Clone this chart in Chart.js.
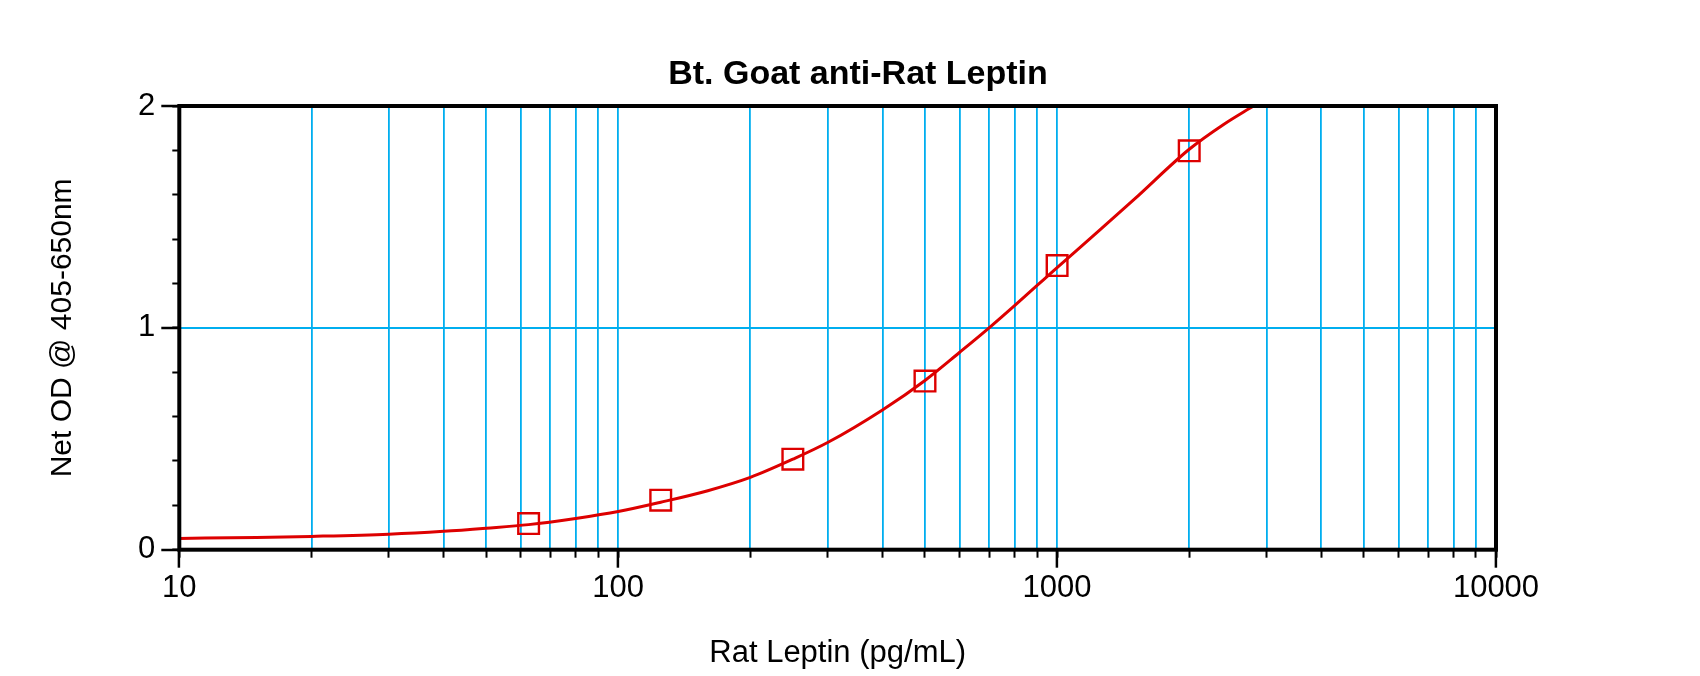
<!DOCTYPE html>
<html>
<head>
<meta charset="utf-8">
<script src="https://cdn.jsdelivr.net/npm/chart.js@4.4.0/dist/chart.umd.min.js"></script>
<style>
  html, body { margin: 0; padding: 0; background: #fff; }
  #wrap { width: 1700px; height: 676px; }
</style>
</head>
<body>
<div id="wrap"><canvas id="canvas1"></canvas></div>
<script>
// standards (pg/mL -> net OD)
var stdX = [62.5, 125, 250, 500, 1000, 2000];
var stdY = [0.118, 0.223, 0.408, 0.76, 1.281, 1.798];

// fitted curve
var curveX = [10, 15, 20, 30, 40, 50, 62.5, 80, 100, 125, 160, 200, 250, 300, 400, 500, 600, 700, 800, 1000, 1250, 1500, 2000, 2400, 2800];
var curveY = [0.051, 0.055, 0.060, 0.070, 0.083, 0.097, 0.113, 0.141, 0.172, 0.214, 0.266, 0.326, 0.408, 0.483, 0.630, 0.763, 0.890, 1.000, 1.100, 1.272, 1.440, 1.580, 1.805, 1.918, 2.000];

// axis ticks
var xTicks = [10, 20, 30, 40, 50, 60, 70, 80, 90,
              100, 200, 300, 400, 500, 600, 700, 800, 900,
              1000, 2000, 3000, 4000, 5000, 6000, 7000, 8000, 9000, 10000];
var xLabels = [10, 100, 1000, 10000];
var yMajor = [0, 1, 2];
var yMinor = [0, 0.2, 0.4, 0.6, 0.8, 1, 1.2, 1.4, 1.6, 1.8, 2];

var RED = '#dd0000';
var GRID = '#00aeef';
var FONT = 'Liberation Sans, Arial, sans-serif';

function toPoints(xs, ys) {
    var pts = [];
    for (var i = 0; i < xs.length; i++) {
        pts.push({x: xs[i], y: ys[i]});
    }
    return pts;
}

function setTicks(values) {
    return function(scale) {
        scale.ticks = values.map(function(v) { return {value: v}; });
    };
}

var framePlugin = {
    id: 'frame',
    afterDatasetsDraw: function(chart) {
        var a = chart.chartArea;
        var ctx = chart.ctx;
        ctx.save();
        ctx.strokeStyle = '#000';
        ctx.lineWidth = 4;
        ctx.strokeRect(a.left, a.top, a.right - a.left, a.bottom - a.top);
        ctx.restore();
    }
};

var ctx = document.getElementById('canvas1');
var chart = new Chart(ctx, {
    type: 'scatter',
    data: {
        datasets: [
            {
                label: 'fit',
                data: toPoints(curveX, curveY),
                showLine: true,
                borderColor: RED,
                borderWidth: 3,
                pointRadius: 0,
                cubicInterpolationMode: 'monotone',
                order: 2
            },
            {
                label: 'standards',
                data: toPoints(stdX, stdY),
                showLine: false,
                pointStyle: 'rect',
                pointRadius: 14.6,
                pointBorderWidth: 2.4,
                borderColor: RED,
                backgroundColor: 'rgba(0,0,0,0)',
                order: 1
            }
        ]
    },
    options: {
        responsive: true,
        maintainAspectRatio: false,
        animation: false,
        layout: { padding: {left: 16, right: 0, top: 0, bottom: 0} },
        plugins: {
            legend: { display: false },
            tooltip: { enabled: false },
            title: {
                display: true,
                text: 'Bt. Goat anti-Rat Leptin',
                color: '#000',
                font: { family: FONT, size: 34, weight: 'bold' },
                padding: { top: 54, bottom: 11.2 }
            }
        },
        scales: {
            x: {
                type: 'logarithmic',
                position: 'bottom',
                weight: 1,
                min: 10,
                max: 10000,
                afterBuildTicks: setTicks(xTicks),
                afterFit: function(s) { s.height = 126.3; },
                border: { display: false },
                grid: {
                    color: function(c) {
                        var v = c.tick ? c.tick.value : 0;
                        return (v === 10 || v === 10000) ? 'rgba(0,0,0,0)' : GRID;
                    },
                    lineWidth: 1.8,
                    tickLength: 18,
                    tickWidth: 2.5,
                    tickColor: function(c) {
                        return xLabels.indexOf(c.tick.value) >= 0 ? '#000' : 'rgba(0,0,0,0)';
                    }
                },
                ticks: {
                    autoSkip: false,
                    maxRotation: 0,
                    padding: 2,
                    color: '#000',
                    font: { family: FONT, size: 31 },
                    callback: function(value) {
                        return xLabels.indexOf(value) >= 0 ? String(value) : '';
                    }
                },
                title: {
                    display: true,
                    text: 'Rat Leptin (pg/mL)',
                    color: '#000',
                    font: { family: FONT, size: 31 },
                    padding: { top: 0, bottom: 4 }
                }
            },
            x2: {
                type: 'logarithmic',
                position: 'bottom',
                weight: 0,
                min: 10,
                max: 10000,
                afterBuildTicks: setTicks(xTicks),
                afterFit: function(s) { s.height = 0; },
                border: { display: false },
                grid: {
                    drawOnChartArea: false,
                    tickLength: 8,
                    tickWidth: 2,
                    tickColor: '#000'
                },
                ticks: { display: false, autoSkip: false }
            },
            y: {
                type: 'linear',
                position: 'left',
                weight: 1,
                min: 0,
                max: 2,
                afterBuildTicks: setTicks(yMajor),
                afterFit: function(s) { s.width = 163.3; },
                border: { display: false },
                grid: {
                    color: function(c) {
                        return c.tick && c.tick.value === 1 ? GRID : 'rgba(0,0,0,0)';
                    },
                    lineWidth: 2,
                    tickLength: 18,
                    tickWidth: 2.5,
                    tickColor: '#000'
                },
                ticks: {
                    padding: 6,
                    color: '#000',
                    font: { family: FONT, size: 31 },
                    callback: function(value) { return String(value); }
                },
                title: {
                    display: true,
                    text: 'Net OD @ 405-650nm',
                    color: '#000',
                    font: { family: FONT, size: 30 },
                    padding: { top: 29, bottom: 0 }
                }
            },
            y2: {
                type: 'linear',
                position: 'left',
                weight: 0,
                min: 0,
                max: 2,
                afterBuildTicks: setTicks(yMinor),
                afterFit: function(s) { s.width = 0; },
                border: { display: false },
                grid: {
                    drawOnChartArea: false,
                    tickLength: 7,
                    tickWidth: 2,
                    tickColor: '#000'
                },
                ticks: { display: false }
            },
            yRight: {
                type: 'linear',
                position: 'right',
                min: 0,
                max: 2,
                afterFit: function(s) { s.width = 204; },
                border: { display: false },
                grid: { display: false },
                ticks: { display: false }
            }
        }
    },
    plugins: [framePlugin]
});
</script>
</body>
</html>
